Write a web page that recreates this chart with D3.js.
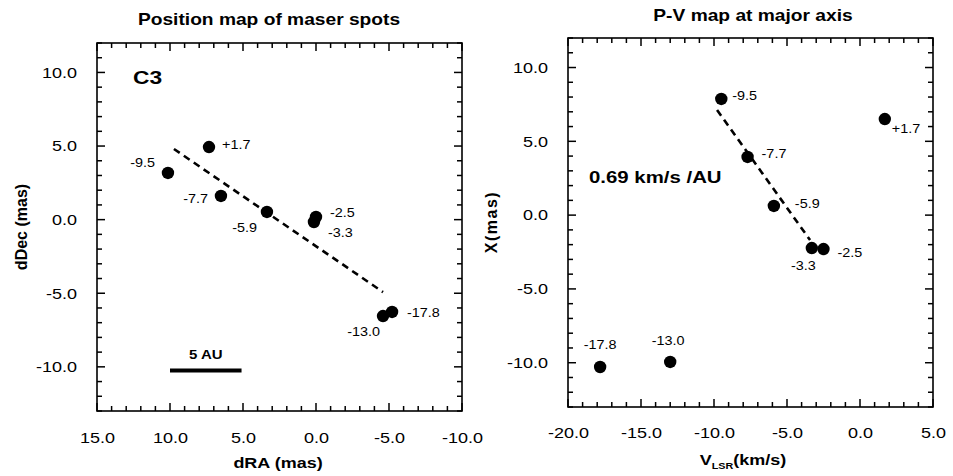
<!DOCTYPE html>
<html>
<head>
<meta charset="utf-8">
<script src="https://cdn.jsdelivr.net/npm/d3@7"></script>
<style>
body { margin: 0; background: #fff; color: #000; }
text { font-family: "Liberation Sans", Arial, Helvetica, sans-serif; fill: #000; }
</style>
</head>
<body>
<div id="chart"></div>
<script>
/*
 *  Data
 */

// left: position map of maser spots (label = V_LSR of the spot)
var posLabels = ["+1.7", "-9.5", "-7.7", "-5.9", "-2.5", "-3.3", "-13.0", "-17.8"];
var posRA = [7.33, 10.14, 6.51, 3.36, 0.00, 0.14, -4.59, -5.21];
var posDec = [4.93, 3.17, 1.61, 0.52, 0.18, -0.16, -6.55, -6.27];
var posFitRA = [9.73, -4.59];
var posFitDec = [4.80, -4.92];
var scaleBarRA = [10.0, 5.1];
var scaleBarDec = [-10.25, -10.25];

// right: P-V map at major axis
var pvLabels = ["-9.5", "-7.7", "-5.9", "-3.3", "-2.5", "+1.7", "-17.8", "-13.0"];
var pvVel = [-9.5, -7.7, -5.9, -3.3, -2.5, 1.7, -17.8, -13.0];
var pvX = [7.87, 3.94, 0.62, -2.23, -2.30, 6.51, -10.29, -9.95];
var pvFitVel = [-9.79, -3.42];
var pvFitX = [7.12, -1.69];

// tick labels
var posXTicks = [15, 10, 5, 0, -5, -10];
var pvXTicks = [-20, -15, -10, -5, 0, 5];
var yTicks = [10, 5, 0, -5, -10];

// label placement next to each spot [dx, dy, anchor]
var posLabelPos = [[13, 2, "start"], [-13, -6, "end"], [-13, 7, "end"], [-10, 20, "end"],
                   [14, 0, "start"], [14, 15, "start"], [-3, 20, "end"], [15, 5, "start"]];
var pvLabelPos = [[11, 1, "start"], [14, 1, "start"], [21, 2, "start"], [4, 22, "end"],
                  [14, 8, "start"], [7, 14, "start"], [0, -18, "middle"], [-2, -17, "middle"]];

var SX = 1.2; // the scanned figure is a little stretched sideways

var svg = d3.select("#chart").append("svg")
	.attr("width", 953)
	.attr("height", 476);

function fmt(d) { return d.toFixed(1); }

function stretchText(g, x, y, str, size, weight, anchor) {
	return g.append("g")
		.attr("transform", "translate(" + x + "," + y + ") scale(" + SX + ",1)")
		.append("text")
		.attr("text-anchor", anchor || "start")
		.attr("font-size", size)
		.attr("font-weight", weight || "normal")
		.text(str);
}

function minorTicks(domain, majors) {
	var lo = Math.ceil(d3.min(domain)), hi = Math.floor(d3.max(domain));
	return d3.range(lo, hi + 1).filter(function(v) { return majors.indexOf(v) < 0; });
}

// tick marks pointing into the frame, placed with the scale
function tickMarks(g, scale, values, horizontal, at, len) {
	g.append("g").selectAll("line").data(values).enter().append("line")
		.attr("x1", function(d) { return horizontal ? scale(d) : at; })
		.attr("x2", function(d) { return horizontal ? scale(d) : at + len; })
		.attr("y1", function(d) { return horizontal ? at : scale(d); })
		.attr("y2", function(d) { return horizontal ? at + len : scale(d); })
		.attr("stroke", "#000")
		.attr("stroke-width", 1.5);
}

/*
 *  Frame with inward ticks on all four sides
 */
function drawFrame(g, x, y, xTicks, xPad) {
	var x0 = x.range()[0], x1 = x.range()[1];
	var y0 = y.range()[1], y1 = y.range()[0];
	var xMinor = minorTicks(x.domain(), xTicks);
	var yMinor = minorTicks(y.domain(), yTicks);

	// tick labels from the axis generators
	var bottom = g.append("g").attr("transform", "translate(0," + y1 + ")")
		.call(d3.axisBottom(x).tickValues(xTicks).tickSize(0).tickPadding(xPad).tickFormat(fmt));
	bottom.select(".domain").remove();
	bottom.attr("font-size", 15).attr("font-family", null);
	bottom.selectAll("text").attr("transform", "scale(" + SX + ",1)");

	var left = g.append("g").attr("transform", "translate(" + x0 + ",0)")
		.call(d3.axisLeft(y).tickValues(yTicks).tickSize(0).tickFormat(fmt));
	left.select(".domain").remove();
	left.attr("font-size", 15).attr("font-family", null);
	left.selectAll("text").attr("x", -20 / SX).attr("transform", "scale(" + SX + ",1)");

	tickMarks(g, x, xTicks, true, y1, -8);
	tickMarks(g, x, xMinor, true, y1, -5);
	tickMarks(g, x, xTicks, true, y0, 8);
	tickMarks(g, x, xMinor, true, y0, 5);
	tickMarks(g, y, yTicks, false, x0, 8);
	tickMarks(g, y, yMinor, false, x0, 5);
	tickMarks(g, y, yTicks, false, x1, -8);
	tickMarks(g, y, yMinor, false, x1, -5);

	g.append("rect")
		.attr("x", x0).attr("y", y0)
		.attr("width", x1 - x0).attr("height", y1 - y0)
		.attr("fill", "none").attr("stroke", "#000").attr("stroke-width", 1.6);
}

function drawSpots(g, x, y, xs, ys, labels, places) {
	var idx = d3.range(xs.length);
	g.selectAll("circle.spot").data(idx).enter().append("circle")
		.attr("class", "spot")
		.attr("cx", function(i) { return x(xs[i]); })
		.attr("cy", function(i) { return y(ys[i]); })
		.attr("r", 6.2)
		.attr("fill", "#000");
	idx.forEach(function(i) {
		stretchText(g, x(xs[i]) + places[i][0], y(ys[i]) + places[i][1], labels[i], 12, "normal", places[i][2]);
	});
}

function drawFit(g, x, y, xs, ys) {
	var line = d3.line()
		.x(function(i) { return x(xs[i]); })
		.y(function(i) { return y(ys[i]); });
	g.append("path")
		.attr("d", line(d3.range(xs.length)))
		.attr("fill", "none")
		.attr("stroke", "#000")
		.attr("stroke-width", 2.6)
		.attr("stroke-dasharray", "7,5");
}

/*
 *  Left panel: position map
 */
var gL = svg.append("g");
var xL = d3.scaleLinear().domain([15, -10]).range([97, 462]);
var yL = d3.scaleLinear().domain([-13, 12]).range([411, 43]);

drawFrame(gL, xL, yL, posXTicks, 21);
drawFit(gL, xL, yL, posFitRA, posFitDec);
drawSpots(gL, xL, yL, posRA, posDec, posLabels, posLabelPos);

gL.append("line")
	.attr("x1", xL(scaleBarRA[0])).attr("x2", xL(scaleBarRA[1]))
	.attr("y1", yL(scaleBarDec[0])).attr("y2", yL(scaleBarDec[1]))
	.attr("stroke", "#000").attr("stroke-width", 4);
stretchText(gL, (xL(scaleBarRA[0]) + xL(scaleBarRA[1])) / 2, yL(scaleBarDec[0]) - 12, "5 AU", 12.5, "bold", "middle");

stretchText(gL, 133, 84, "C3", 19, "bold", "start");
stretchText(gL, 269, 25, "Position map of maser spots", 16, "bold", "middle");
stretchText(gL, 278, 468, "dRA (mas)", 15, "bold", "middle");
gL.append("text")
	.attr("transform", "translate(27,227) rotate(-90)")
	.attr("text-anchor", "middle")
	.attr("font-size", 16)
	.attr("font-weight", "bold")
	.text("dDec (mas)");

/*
 *  Right panel: P-V map
 */
var gR = svg.append("g");
var xR = d3.scaleLinear().domain([-20, 5]).range([568, 933]);
var yR = d3.scaleLinear().domain([-13, 12]).range([407, 38]);

drawFrame(gR, xR, yR, pvXTicks, 20);
drawFit(gR, xR, yR, pvFitVel, pvFitX);
drawSpots(gR, xR, yR, pvVel, pvX, pvLabels, pvLabelPos);

stretchText(gR, 589, 183, "0.69 km/s /AU", 17, "bold", "start");
stretchText(gR, 753, 21, "P-V map at major axis", 16, "bold", "middle");

var vl = stretchText(gR, 743, 465, "", 15, "bold", "middle");
vl.append("tspan").text("V");
vl.append("tspan").attr("font-size", 9).attr("dy", 4).text("LSR");
vl.append("tspan").attr("dy", -4).text("(km/s)");

gR.append("text")
	.attr("transform", "translate(497,222) rotate(-90)")
	.attr("text-anchor", "middle")
	.attr("font-size", 16)
	.attr("font-weight", "bold")
	.attr("letter-spacing", 1.5)
	.text("X(mas)");
</script>
</body>
</html>
